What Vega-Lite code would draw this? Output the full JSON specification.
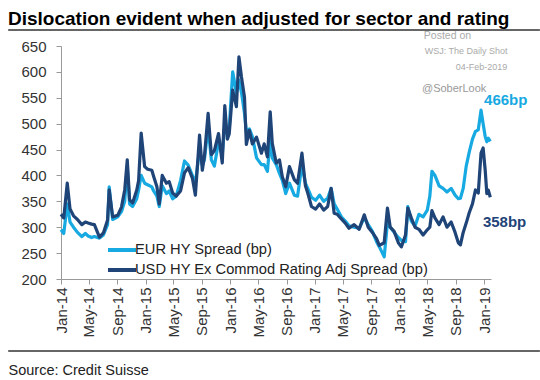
{
  "$schema": "https://vega.github.io/schema/vega-lite/v6.json",
  "autosize": {"type": "none"},
  "padding": {"left": 61, "top": 46, "right": 49, "bottom": 101},
  "width": 430,
  "height": 233,
  "background": "white",
  "config": {"font": "Liberation Sans", "view": {"stroke": null}},
  "title": {"text": "Dislocation evident when adjusted for sector and rating", "anchor": "start", "frame": "group", "orient": "top", "dx": -53, "dy": 20, "offset": 5, "baseline": "alphabetic", "fontSize": 19, "fontWeight": "bold", "font": "Liberation Sans", "color": "#000000"},
  "resolve": {"axis": {"x": "independent", "y": "independent"}},
  "layer": [
    {
      "data": {"values": [
        {"d":"2014-01-01","USD":325,"EUR":295},{"d":"2014-01-13","USD":318,"EUR":288},{"d":"2014-01-28","USD":385,"EUR":345},{"d":"2014-02-09","USD":335,"EUR":310},{"d":"2014-02-24","USD":322,"EUR":300},{"d":"2014-03-13","USD":315,"EUR":290},{"d":"2014-04-01","USD":305,"EUR":282},{"d":"2014-04-16","USD":310,"EUR":288},{"d":"2014-04-28","USD":308,"EUR":283},{"d":"2014-05-13","USD":306,"EUR":280},{"d":"2014-05-25","USD":305,"EUR":282},{"d":"2014-06-16","USD":281,"EUR":279},{"d":"2014-07-03","USD":289,"EUR":285},{"d":"2014-07-21","USD":314,"EUR":305},{"d":"2014-07-28","USD":372,"EUR":378},{"d":"2014-08-12","USD":320,"EUR":315},{"d":"2014-09-03","USD":323,"EUR":320},{"d":"2014-09-19","USD":339,"EUR":330},{"d":"2014-10-03","USD":372,"EUR":350},{"d":"2014-10-14","USD":430,"EUR":418},{"d":"2014-10-24","USD":353,"EUR":345},{"d":"2014-11-06","USD":347,"EUR":340},{"d":"2014-11-24","USD":372,"EUR":355},{"d":"2014-12-02","USD":390,"EUR":372},{"d":"2014-12-13","USD":482,"EUR":400},{"d":"2014-12-28","USD":417,"EUR":385},
        {"d":"2015-01-10","USD":412,"EUR":382},{"d":"2015-01-28","USD":410,"EUR":378},{"d":"2015-02-05","USD":398,"EUR":370},{"d":"2015-02-19","USD":378,"EUR":360},{"d":"2015-03-01","USD":345,"EUR":340},{"d":"2015-03-14","USD":400,"EUR":380},{"d":"2015-04-01","USD":385,"EUR":365},{"d":"2015-04-13","USD":388,"EUR":370},{"d":"2015-04-28","USD":366,"EUR":355},{"d":"2015-05-13","USD":360,"EUR":360},{"d":"2015-06-01","USD":370,"EUR":390},{"d":"2015-06-18","USD":405,"EUR":428},{"d":"2015-07-04","USD":415,"EUR":420},{"d":"2015-07-22","USD":395,"EUR":400},{"d":"2015-08-04","USD":362,"EUR":385},{"d":"2015-08-22","USD":478,"EUR":450},{"d":"2015-09-03","USD":410,"EUR":420},{"d":"2015-09-12","USD":437,"EUR":430},{"d":"2015-09-28","USD":520,"EUR":494},{"d":"2015-10-12","USD":440,"EUR":430},{"d":"2015-10-25","USD":448,"EUR":418},{"d":"2015-11-12","USD":481,"EUR":465},{"d":"2015-11-28","USD":424,"EUR":440},{"d":"2015-12-09","USD":535,"EUR":500},{"d":"2015-12-20","USD":470,"EUR":480},{"d":"2015-12-28","USD":480,"EUR":490},
        {"d":"2016-01-12","USD":565,"EUR":600},{"d":"2016-01-28","USD":533,"EUR":560},{"d":"2016-02-08","USD":629,"EUR":584},{"d":"2016-02-19","USD":590,"EUR":560},{"d":"2016-03-03","USD":551,"EUR":520},{"d":"2016-03-11","USD":460,"EUR":485},{"d":"2016-03-24","USD":487,"EUR":490},{"d":"2016-04-06","USD":461,"EUR":475},{"d":"2016-04-24","USD":474,"EUR":434},{"d":"2016-05-15","USD":443,"EUR":421},{"d":"2016-05-27","USD":461,"EUR":421},{"d":"2016-06-10","USD":436,"EUR":408},{"d":"2016-06-22","USD":523,"EUR":470},{"d":"2016-07-01","USD":462,"EUR":434},{"d":"2016-07-18","USD":424,"EUR":421},{"d":"2016-08-01","USD":430,"EUR":404},{"d":"2016-08-13","USD":398,"EUR":391},{"d":"2016-08-28","USD":378,"EUR":365},{"d":"2016-09-13","USD":417,"EUR":385},{"d":"2016-10-04","USD":392,"EUR":362},{"d":"2016-10-18","USD":385,"EUR":360},{"d":"2016-11-06","USD":443,"EUR":420},{"d":"2016-11-21","USD":380,"EUR":385},{"d":"2016-12-01","USD":366,"EUR":375},{"d":"2016-12-17","USD":340,"EUR":358},
        {"d":"2017-01-04","USD":335,"EUR":352},{"d":"2017-01-21","USD":345,"EUR":362},{"d":"2017-02-08","USD":333,"EUR":350},{"d":"2017-02-25","USD":340,"EUR":356},{"d":"2017-03-12","USD":375,"EUR":375},{"d":"2017-03-25","USD":327,"EUR":345},{"d":"2017-04-07","USD":325,"EUR":335},{"d":"2017-04-25","USD":316,"EUR":320},{"d":"2017-05-12","USD":308,"EUR":312},{"d":"2017-05-28","USD":298,"EUR":303},{"d":"2017-06-19","USD":305,"EUR":300},{"d":"2017-07-11","USD":296,"EUR":298},{"d":"2017-08-02","USD":324,"EUR":318},{"d":"2017-08-19","USD":300,"EUR":305},{"d":"2017-09-06","USD":290,"EUR":292},{"d":"2017-09-24","USD":278,"EUR":272},{"d":"2017-10-06","USD":265,"EUR":262},{"d":"2017-10-27","USD":270,"EUR":243},{"d":"2017-11-10","USD":337,"EUR":308},{"d":"2017-11-22","USD":300,"EUR":300},{"d":"2017-12-09","USD":292,"EUR":290},{"d":"2017-12-27","USD":270,"EUR":280},
        {"d":"2018-01-09","USD":262,"EUR":275},{"d":"2018-01-27","USD":285,"EUR":272},{"d":"2018-02-06","USD":337,"EUR":340},{"d":"2018-02-21","USD":318,"EUR":312},{"d":"2018-03-09","USD":300,"EUR":302},{"d":"2018-03-26","USD":296,"EUR":325},{"d":"2018-04-13","USD":285,"EUR":320},{"d":"2018-05-01","USD":295,"EUR":333},{"d":"2018-05-12","USD":300,"EUR":360},{"d":"2018-05-21","USD":332,"EUR":408},{"d":"2018-06-03","USD":318,"EUR":400},{"d":"2018-06-21","USD":305,"EUR":380},{"d":"2018-07-08","USD":320,"EUR":375},{"d":"2018-07-25","USD":300,"EUR":368},{"d":"2018-08-12","USD":310,"EUR":375},{"d":"2018-08-29","USD":290,"EUR":362},{"d":"2018-09-12","USD":270,"EUR":355},{"d":"2018-09-21","USD":266,"EUR":356},{"d":"2018-10-03","USD":290,"EUR":375},{"d":"2018-10-16","USD":308,"EUR":418},{"d":"2018-10-29","USD":328,"EUR":445},{"d":"2018-11-12","USD":345,"EUR":470},{"d":"2018-11-25","USD":372,"EUR":485},{"d":"2018-12-07","USD":366,"EUR":488},{"d":"2018-12-19","USD":443,"EUR":526},{"d":"2018-12-28","USD":453,"EUR":500},
        {"d":"2019-01-06","USD":410,"EUR":475},{"d":"2019-01-13","USD":365,"EUR":465},{"d":"2019-01-19","USD":372,"EUR":472},{"d":"2019-01-28","USD":358,"EUR":466}
      ]},
      "transform": [{"fold": ["EUR", "USD"], "as": ["s", "v"]}],
      "mark": {"type": "line", "strokeWidth": 3.2, "strokeJoin": "round"},
      "encoding": {
        "x": {"field": "d", "type": "temporal",
          "scale": {"type": "utc", "domain": [{"year": 2014, "month": 1, "date": 1, "utc": true}, {"year": 2019, "month": 1, "date": 31, "utc": true}]},
          "axis": {"labelExpr": "utcFormat(datum.value, '%b-%y')", "labelAngle": -90, "labelFontSize": 15, "labelColor": "#333333", "labelPadding": 3, "labelOverlap": false, "tickSize": 5, "tickColor": "#999999", "domainColor": "#999999", "grid": false,
            "values": [{"year":2014,"month":1,"date":1,"utc":true},{"year":2014,"month":5,"date":1,"utc":true},{"year":2014,"month":9,"date":1,"utc":true},{"year":2015,"month":1,"date":1,"utc":true},{"year":2015,"month":5,"date":1,"utc":true},{"year":2015,"month":9,"date":1,"utc":true},{"year":2016,"month":1,"date":1,"utc":true},{"year":2016,"month":5,"date":1,"utc":true},{"year":2016,"month":9,"date":1,"utc":true},{"year":2017,"month":1,"date":1,"utc":true},{"year":2017,"month":5,"date":1,"utc":true},{"year":2017,"month":9,"date":1,"utc":true},{"year":2018,"month":1,"date":1,"utc":true},{"year":2018,"month":5,"date":1,"utc":true},{"year":2018,"month":9,"date":1,"utc":true},{"year":2019,"month":1,"date":1,"utc":true}],
            "title": "Source: Credit Suisse", "titleX": -53, "titleY": 95, "titleAlign": "left", "titleAnchor": "start", "titleBaseline": "alphabetic", "titleFontSize": 14.5, "titleFontWeight": "normal", "titleColor": "#222222"}},
        "y": {"field": "v", "type": "quantitative",
          "scale": {"domain": [200, 650], "nice": false, "zero": false},
          "axis": {"values": [200, 250, 300, 350, 400, 450, 500, 550, 600, 650], "title": null, "labelFontSize": 15, "labelColor": "#333333", "labelPadding": 10, "labelOverlap": false, "tickSize": 5, "tickColor": "#999999", "domainColor": "#999999", "grid": false}},
        "color": {"field": "s", "type": "nominal",
          "scale": {"domain": ["EUR", "USD"], "range": ["#17A9E1", "#1F4478"]},
          "legend": {"orient": "none", "legendX": 49, "legendY": 192, "title": null, "symbolType": "M-1.4,0H1.4", "symbolSize": 400, "symbolStrokeWidth": 4, "labelFontSize": 14.7, "labelColor": "#222222", "labelOffset": 1, "labelLimit": 0, "rowPadding": -2,
            "labelExpr": "datum.label == 'EUR' ? 'EUR HY Spread (bp)' : 'USD HY Ex Commod Rating Adj Spread (bp)'"}}
      }
    },
    {
      "data": {"values": [{}]},
      "mark": {"type": "rule", "color": "#666666", "strokeWidth": 2},
      "encoding": {
        "x": {"datum": {"year": 2013, "month": 5, "date": 18, "utc": true}, "type": "temporal", "axis": null},
        "x2": {"datum": {"year": 2019, "month": 8, "date": 30, "utc": true}},
        "y": {"datum": 681, "type": "quantitative", "axis": null}
      }
    },
    {
      "data": {"values": [{}]},
      "mark": {"type": "rule", "color": "#666666", "strokeWidth": 2},
      "encoding": {
        "x": {"datum": {"year": 2013, "month": 5, "date": 18, "utc": true}, "type": "temporal", "axis": null},
        "x2": {"datum": {"year": 2019, "month": 8, "date": 30, "utc": true}},
        "y": {"datum": 61, "type": "quantitative", "axis": null}
      }
    },
    {
      "data": {"values": [{}]},
      "mark": {"type": "text", "text": "Posted on", "align": "left", "baseline": "alphabetic", "fontSize": 10.5, "color": "#aaaaaa"},
      "encoding": {"x": {"datum": {"year": 2018, "month": 4, "date": 16, "utc": true}, "type": "temporal", "axis": null}, "y": {"datum": 663.5, "type": "quantitative", "axis": null}}
    },
    {
      "data": {"values": [{}]},
      "mark": {"type": "text", "text": "WSJ: The Daily Shot", "align": "left", "baseline": "alphabetic", "fontSize": 9, "color": "#aaaaaa"},
      "encoding": {"x": {"datum": {"year": 2018, "month": 4, "date": 20, "utc": true}, "type": "temporal", "axis": null}, "y": {"datum": 634.5, "type": "quantitative", "axis": null}}
    },
    {
      "data": {"values": [{}]},
      "mark": {"type": "text", "text": "04-Feb-2019", "align": "left", "baseline": "alphabetic", "fontSize": 9, "color": "#aaaaaa"},
      "encoding": {"x": {"datum": {"year": 2018, "month": 9, "date": 1, "utc": true}, "type": "temporal", "axis": null}, "y": {"datum": 603.6, "type": "quantitative", "axis": null}}
    },
    {
      "data": {"values": [{}]},
      "mark": {"type": "text", "text": "@SoberLook", "align": "left", "baseline": "alphabetic", "fontSize": 11, "color": "#999999"},
      "encoding": {"x": {"datum": {"year": 2018, "month": 4, "date": 8, "utc": true}, "type": "temporal", "axis": null}, "y": {"datum": 561, "type": "quantitative", "axis": null}}
    },
    {
      "data": {"values": [{}]},
      "mark": {"type": "text", "text": "466bp", "align": "left", "baseline": "alphabetic", "fontSize": 15, "fontWeight": "bold", "color": "#17A9E1"},
      "encoding": {"x": {"datum": {"year": 2019, "month": 1, "date": 1, "utc": true}, "type": "temporal", "axis": null}, "y": {"datum": 536, "type": "quantitative", "axis": null}}
    },
    {
      "data": {"values": [{}]},
      "mark": {"type": "text", "text": "358bp", "align": "left", "baseline": "alphabetic", "fontSize": 15, "fontWeight": "bold", "color": "#1F4478"},
      "encoding": {"x": {"datum": {"year": 2018, "month": 12, "date": 27, "utc": true}, "type": "temporal", "axis": null}, "y": {"datum": 300.4, "type": "quantitative", "axis": null}}
    }
  ]
}
